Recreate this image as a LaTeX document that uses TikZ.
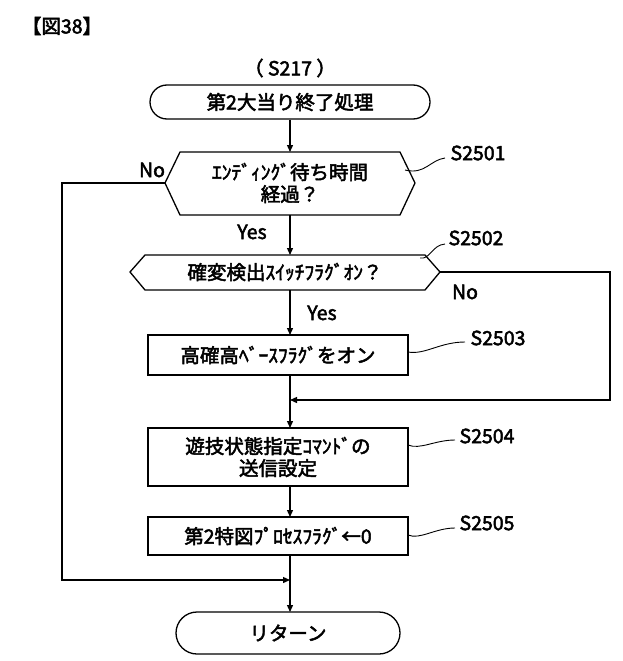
\documentclass[tikz,border=0pt]{standalone}
\usepackage{fontspec}
\setmainfont{Liberation Sans}
\newfontfamily\jp[FakeBold=2.5]{Noto Sans CJK JP}
\usetikzlibrary{shapes.misc,arrows.meta}
\begin{document}
\begin{tikzpicture}[x=1pt,y=-1pt,
  line width=1.3pt,
  every node/.style={font=\jp\fontsize{19.5}{22}\selectfont},
  term/.style={draw,rounded rectangle,minimum width=#1,minimum height=34pt,inner sep=2pt},
  proc/.style={draw,rectangle,minimum width=260pt,inner sep=3pt,align=center},
  lbl/.style={font=\jp\fontsize{19.5}{22}\selectfont},
  arr/.style={-{Triangle[length=7pt,width=6pt]}},
  lead/.style={line width=0.9pt}]
\useasboundingbox (0,0) rectangle (622,661);
\node[lbl] (title) at (62,26) {【図38】};
\node[lbl] (s217) at (290,68) {（ S217 ）};
\node[term=284pt] (start) at (290,102) {第2大当り終了処理};
% decision 1
\coordinate (d1l) at (165,183); \coordinate (d1r) at (415,183);
\draw (d1l) -- (180,152) -- (400,152) -- (d1r) -- (400,215) -- (180,215) -- cycle;
\node[align=center] (d1) at (290,183) {ｴﾝﾃﾞｨﾝｸﾞ待ち時間\\経過？};
\coordinate (d1t) at (290,152); \coordinate (d1b) at (290,215);
% decision 2
\coordinate (d2l) at (130,272); \coordinate (d2r) at (440,272);
\draw (d2l) -- (145,255) -- (425,255) -- (d2r) -- (425,290) -- (145,290) -- cycle;
\node (d2) at (285,272) {確変検出ｽｲｯﾁﾌﾗｸﾞｵﾝ？};
\coordinate (d2t) at (290,255); \coordinate (d2b) at (290,290);
\node[proc,minimum height=40pt] (p3) at (278,355) {高確高ﾍﾞｰｽﾌﾗｸﾞをオン};
\node[proc,minimum height=58pt] (p4) at (278,457) {遊技状態指定ｺﾏﾝﾄﾞの\\送信設定};
\node[proc,minimum height=38pt] (p5) at (278,536) {第2特図ﾌﾟﾛｾｽﾌﾗｸﾞ←0};
\node[term=228pt,minimum height=42pt] (end) at (288,633) {リターン};
\coordinate (m1) at (290,400); \coordinate (m2) at (290,580);
\coordinate (r1) at (610,272); \coordinate (r2) at (610,400);
\coordinate (l1) at (62,183); \coordinate (l2) at (62,580);
\draw[arr] (start) -- (d1t);
\draw[arr] (d1b) -- (d2t);
\draw[arr] (d2b) -- (290,335);
\draw[arr] (290,375) -- (290,428);
\draw[arr] (290,486) -- (290,517);
\draw[arr] (290,555) -- (290,612);
\draw[arr] (d2r) -- (r1) -- (r2) -- (m1);
\draw[arr] (d1l) -- (l1) -- (l2) -- (m2);
\node (no1) at (152,170) {No};
\node (yes1) at (252,232) {Yes};
\node (no2) at (465,292) {No};
\node (yes2) at (322,313) {Yes};
\node (s1) at (478,153) {S2501};
\node (s2) at (476,238) {S2502};
\node (s3) at (498,338) {S2503};
\node (s4) at (487,436) {S2504};
\node (s5) at (487,523) {S2505};
\draw[lead] (405,170) .. controls (425,175) and (430,160) .. (445,158);
\draw[lead] (420,258) .. controls (430,260) and (432,245) .. (445,244);
\draw[lead] (408,352) .. controls (425,355) and (440,342) .. (465,342);
\draw[lead] (408,445) .. controls (420,450) and (435,440) .. (455,440);
\draw[lead] (408,535) .. controls (420,540) and (435,528) .. (455,528);
\end{tikzpicture}
\end{document}
